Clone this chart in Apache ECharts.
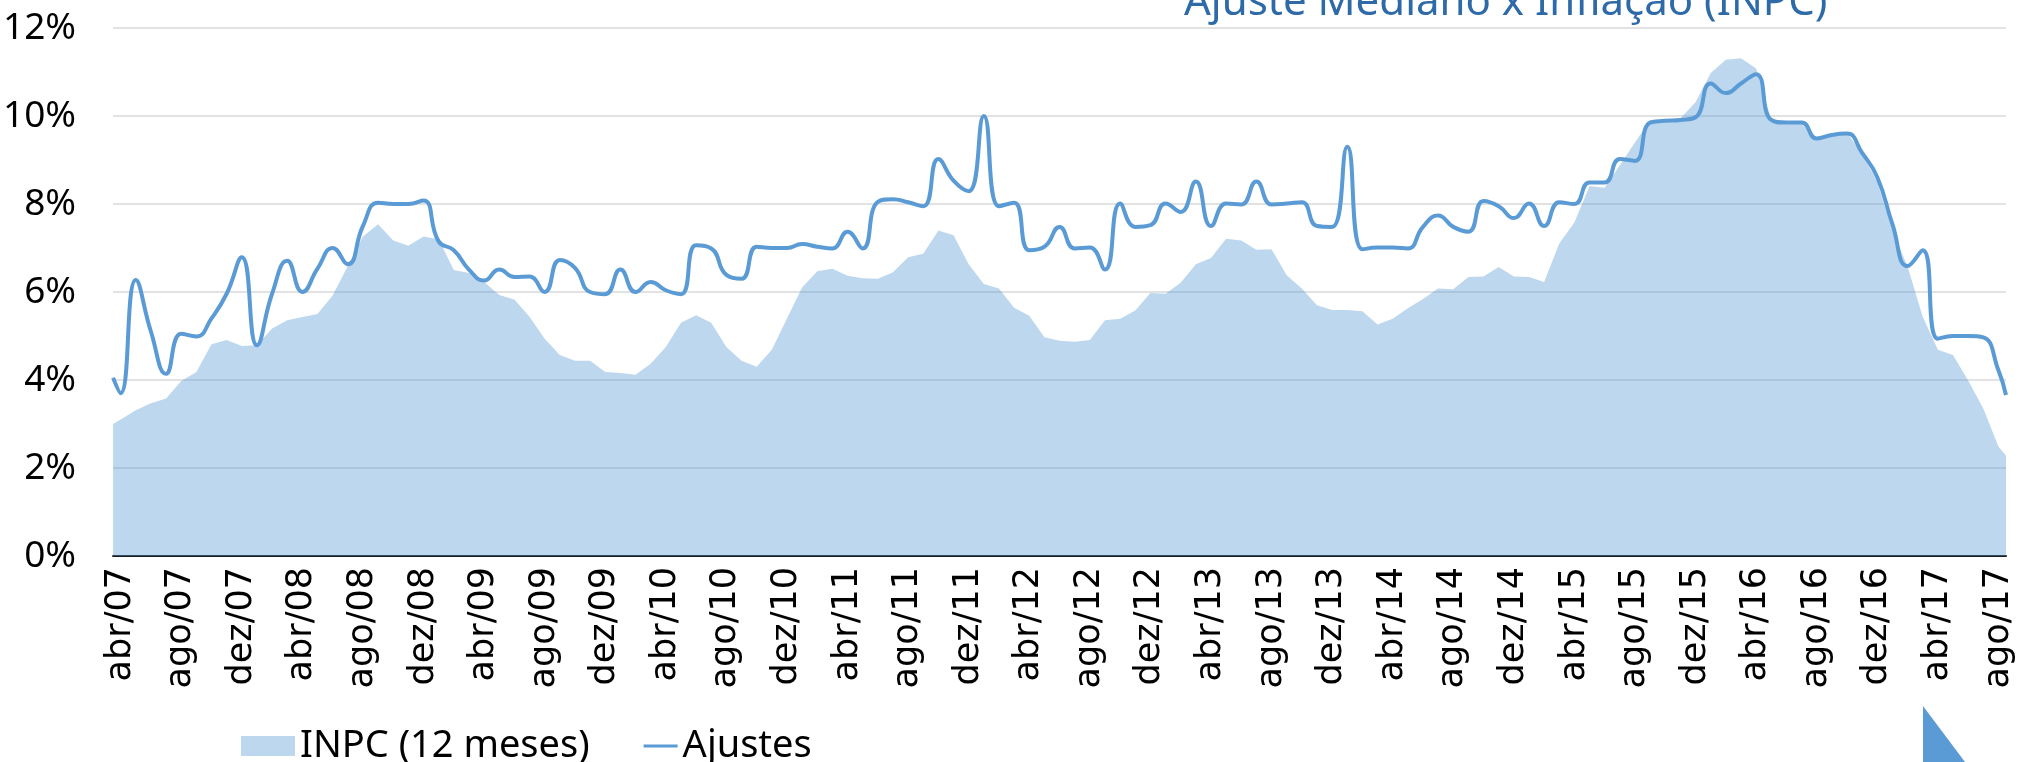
<!DOCTYPE html>
<html><head><meta charset="utf-8">
<script src="https://cdn.jsdelivr.net/npm/echarts@6/dist/echarts.min.js"></script>
<style>html,body{margin:0;padding:0;background:#fff}#c{width:2020px;height:762px}</style>
</head><body><div id="c"></div>
<script>
const categories = [
 'abr/07','mai/07','jun/07','jul/07','ago/07','set/07','out/07','nov/07','dez/07',
 'jan/08','fev/08','mar/08','abr/08','mai/08','jun/08','jul/08','ago/08','set/08','out/08','nov/08','dez/08',
 'jan/09','fev/09','mar/09','abr/09','mai/09','jun/09','jul/09','ago/09','set/09','out/09','nov/09','dez/09',
 'jan/10','fev/10','mar/10','abr/10','mai/10','jun/10','jul/10','ago/10','set/10','out/10','nov/10','dez/10',
 'jan/11','fev/11','mar/11','abr/11','mai/11','jun/11','jul/11','ago/11','set/11','out/11','nov/11','dez/11',
 'jan/12','fev/12','mar/12','abr/12','mai/12','jun/12','jul/12','ago/12','set/12','out/12','nov/12','dez/12',
 'jan/13','fev/13','mar/13','abr/13','mai/13','jun/13','jul/13','ago/13','set/13','out/13','nov/13','dez/13',
 'jan/14','fev/14','mar/14','abr/14','mai/14','jun/14','jul/14','ago/14','set/14','out/14','nov/14','dez/14',
 'jan/15','fev/15','mar/15','abr/15','mai/15','jun/15','jul/15','ago/15','set/15','out/15','nov/15','dez/15',
 'jan/16','fev/16','mar/16','abr/16','mai/16','jun/16','jul/16','ago/16','set/16','out/16','nov/16','dez/16',
 'jan/17','fev/17','mar/17','abr/17','mai/17','jun/17','jul/17','ago/17'
];
// INPC 12 meses (%)
const inpc = [
 3.10,3.31,3.47,3.58,3.98,4.18,4.81,4.91,4.77,
 4.79,5.17,5.36,5.43,5.50,5.92,6.59,7.26,7.54,7.17,7.05,7.26,
 7.20,6.50,6.43,6.23,5.93,5.83,5.44,4.94,4.57,4.44,4.44,4.18,
 4.16,4.12,4.37,4.75,5.30,5.47,5.30,4.75,4.44,4.30,4.69,5.40,
 6.10,6.47,6.53,6.37,6.31,6.30,6.45,6.79,6.87,7.40,7.29,6.63,
 6.18,6.08,5.64,5.46,4.97,4.89,4.87,4.91,5.36,5.39,5.58,5.98,
 5.96,6.21,6.63,6.77,7.21,7.17,6.96,6.97,6.38,6.08,5.70,5.59,
 5.59,5.56,5.26,5.39,5.63,5.84,6.08,6.06,6.34,6.35,6.57,6.35,
 6.34,6.23,7.10,7.58,8.41,8.37,8.88,9.40,9.91,9.91,9.95,10.31,
 10.98,11.28,11.31,11.08,9.91,9.83,9.82,9.49,9.56,9.62,9.15,8.50,
 7.39,6.58,5.44,4.69,4.57,3.99,3.35,2.49
];
// Ajuste mediano (%)
const ajustes = [
 3.70,6.27,5.10,4.14,5.05,4.99,5.40,5.96,6.79,
 4.79,5.96,6.71,6.00,6.53,7.00,6.63,7.50,8.03,8.00,8.00,8.08,
 7.15,6.95,6.51,6.26,6.51,6.34,6.35,6.00,6.73,6.55,6.00,5.95,
 6.51,6.00,6.23,6.04,5.95,7.06,6.99,6.39,6.30,7.03,7.00,7.00,
 7.09,7.03,6.99,7.37,6.99,8.05,8.11,8.04,7.95,9.02,8.53,8.29,
 10.00,7.95,8.03,6.95,7.03,7.48,6.99,7.01,6.51,8.01,7.48,7.52,
 8.01,7.82,8.51,7.50,8.01,7.99,8.51,7.99,8.01,8.04,7.50,7.48,
 9.30,6.97,7.01,7.01,6.99,7.48,7.74,7.48,7.37,8.07,7.95,7.68,
 8.01,7.50,8.04,8.00,8.49,8.49,9.02,8.98,9.85,9.89,9.91,9.97,
 10.74,10.52,10.74,10.95,9.91,9.85,9.85,9.49,9.57,9.60,9.16,8.61,
 7.54,6.59,6.95,4.94,5.00,5.00,4.97,4.22
];
// values where each series meets the left / right plot edge
const inpcEdges = [3.00, 2.28];
const ajustesEdges = [4.05, 3.66];
const yTicks = [0, 2, 4, 6, 8, 10, 12];

function withEdges(vals, edges) {
  const pts = vals.map((v, i) => [i, v]);
  pts.unshift([-0.5, edges[0]]);
  pts.push([vals.length - 0.5, edges[1]]);
  return pts;
}

const chart = echarts.init(document.getElementById('c'), null, {renderer: 'canvas'});
chart.setOption({
  animation: false,
  backgroundColor: '#ffffff',
  title: {
    text: 'Ajuste Mediano x Inflação (INPC)',
    left: 1179, top: -23,
    textStyle: {fontFamily: 'Noto Sans', fontSize: 42, fontWeight: 'normal', color: '#2e6aa8'}
  },
  grid: {left: 113, right: 14, top: 28, bottom: 206, containLabel: false},
  legend: {
    left: 236, top: 722,
    itemWidth: 54, itemHeight: 20, itemGap: 34,
    textStyle: {fontFamily: 'Noto Sans', fontSize: 38, color: '#000'},
    data: [
      {name: 'INPC (12 meses)', icon: 'rect', itemStyle: {color: '#bdd7ee'}},
      {name: 'Ajustes', icon: 'path://M0,0L0,3M20,0H54V3H20Z', itemStyle: {color: '#5b9bd5'}}
    ]
  },
  xAxis: [
    {
      type: 'category', data: categories, boundaryGap: true,
      axisLine: {show: true, lineStyle: {color: '#1a1a1a', width: 2}},
      axisTick: {show: false},
      splitLine: {show: false},
      axisLabel: {interval: 3, rotate: 90, margin: 11, fontFamily: 'DejaVu Sans', fontSize: 35, color: '#000'}
    },
    {type: 'value', min: -0.5, max: categories.length - 0.5, show: false}
  ],
  yAxis: {
    type: 'value', min: yTicks[0], max: yTicks[yTicks.length - 1], interval: 2,
    axisLine: {show: false}, axisTick: {show: false},
    splitLine: {show: true, lineStyle: {color: '#d9d9d9', width: 1.5}},
    axisLabel: {formatter: v => v + '%', margin: 37, fontFamily: 'Noto Sans', fontSize: 37, color: '#000'}
  },
  series: [
    {
      name: 'INPC (12 meses)', type: 'line', xAxisIndex: 1,
      data: withEdges(inpc, inpcEdges),
      symbol: 'none', smooth: false,
      lineStyle: {width: 0, opacity: 0},
      itemStyle: {color: '#bdd7ee'},
      areaStyle: {color: 'rgba(91,155,213,0.4)', opacity: 1},
      z: 1
    },
    {
      name: 'Ajustes', type: 'line', xAxisIndex: 1,
      data: withEdges(ajustes, ajustesEdges),
      symbol: 'none', smooth: 0.5,
      lineStyle: {width: 4, color: '#5b9bd5'},
      itemStyle: {color: '#5b9bd5'},
      z: 3
    }
  ],
  graphic: [
    {type: 'polygon', shape: {points: [[1923, 706], [1923, 762], [1965, 762]]}, style: {fill: '#5b9bd5'}}
  ]
});
</script></body></html>
